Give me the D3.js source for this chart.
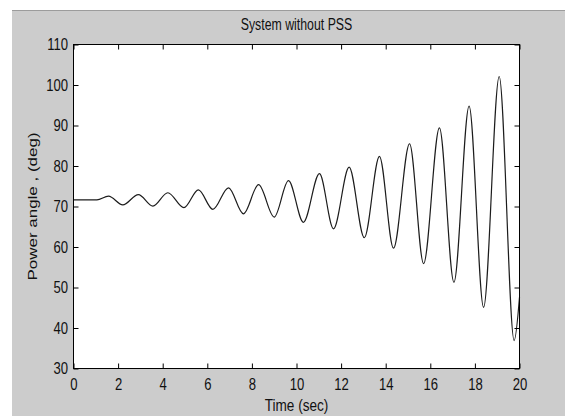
<!DOCTYPE html>
<html>
<head>
<meta charset="utf-8">
<script src="https://cdn.jsdelivr.net/npm/d3@7"></script>
<style>
	body { margin: 0; background: #fff; }
	svg { display: block; }
	text { font-family: 'Liberation Sans', Arial, sans-serif; fill: #111; }
</style>
</head>
<body>
<svg id="chart"></svg>
<script>
// peaks and troughs (sec, deg)
const timeSec = [0, 1.05, 1.57, 2.21, 2.91, 3.56, 4.23, 4.95, 5.6, 6.25, 6.95, 7.62, 8.3, 9.0,
	9.64, 10.31, 11.03, 11.66, 12.36, 13.04, 13.72, 14.35, 15.07, 15.7, 16.41, 17.06,
	17.74, 18.39, 19.09, 19.76, 20];
const angleDeg = [71.65, 71.65, 72.55, 70.4, 72.95, 70.1, 73.4, 69.7, 74.1, 69.3, 74.6, 68.2, 75.4, 67.4,
	76.4, 66.1, 78.1, 64.5, 79.7, 62.3, 82.4, 59.7, 85.5, 55.9, 89.4, 51.3,
	94.8, 45.1, 102.1, 36.9, 47.6];
const xTicks = [0, 2, 4, 6, 8, 10, 12, 14, 16, 18, 20];
const yTicks = [30, 40, 50, 60, 70, 80, 90, 100, 110];

const WIDTH = 565;
const HEIGHT = 416;
const BOX = { left: 73.5, right: 519.5, top: 44.5, bottom: 368.5 };
const TICK = 5;
const SQUEEZE = 0.77; // the original text is narrower than Arial

const $svg = d3.select('#chart').attr('width', WIDTH).attr('height', HEIGHT);

const x = d3.scaleLinear().domain([0, 20]).range([BOX.left, BOX.right]);
const y = d3.scaleLinear().domain([30, 110]).range([BOX.bottom, BOX.top]);

// figure background
$svg.append('rect')
	.attr('x', 12).attr('y', 10)
	.attr('width', WIDTH - 12).attr('height', HEIGHT - 10)
	.attr('fill', '#cccccc');
$svg.append('line')
	.attr('x1', 12).attr('x2', WIDTH)
	.attr('y1', 10.5).attr('y2', 10.5)
	.attr('stroke', '#9c9c9c');

$svg.append('rect')
	.attr('x', BOX.left).attr('y', BOX.top)
	.attr('width', BOX.right - BOX.left).attr('height', BOX.bottom - BOX.top)
	.attr('fill', '#fff');

const line = d3.line()
	.x((d, i) => x(timeSec[i]))
	.y(d => y(d))
	.curve(d3.curveMonotoneX);

$svg.append('path')
	.datum(angleDeg)
	.attr('d', line)
	.attr('fill', 'none')
	.attr('stroke', '#1c1c1c')
	.attr('stroke-width', 1.2);

function styleAxis($g) {
	$g.select('.domain').remove();
	$g.selectAll('line').attr('stroke', '#000');
	$g.selectAll('text').attr('fill', '#111').attr('font-size', 17);
}

const $bottom = $svg.append('g')
	.attr('transform', `translate(0,${BOX.bottom})`)
	.call(d3.axisBottom(x).tickValues(xTicks).tickSize(-TICK).tickPadding(9).tickFormat(d3.format('d')))
	.call(styleAxis);
$bottom.selectAll('text').attr('transform', `scale(${SQUEEZE},1)`);

const $left = $svg.append('g')
	.attr('transform', `translate(${BOX.left},0)`)
	.call(d3.axisLeft(y).tickValues(yTicks).tickSize(-TICK).tickPadding(5).tickFormat(d3.format('d')))
	.call(styleAxis);
$left.selectAll('text')
	.attr('x', -5.5 / SQUEEZE)
	.attr('transform', `scale(${SQUEEZE},1)`);

$svg.append('g')
	.attr('transform', `translate(0,${BOX.top})`)
	.call(d3.axisTop(x).tickValues(xTicks).tickSize(-TICK).tickFormat(''))
	.call(styleAxis);

$svg.append('g')
	.attr('transform', `translate(${BOX.right},0)`)
	.call(d3.axisRight(y).tickValues(yTicks).tickSize(-TICK).tickFormat(''))
	.call(styleAxis);

// plot box
$svg.append('rect')
	.attr('x', BOX.left).attr('y', BOX.top)
	.attr('width', BOX.right - BOX.left).attr('height', BOX.bottom - BOX.top)
	.attr('fill', 'none')
	.attr('stroke', '#000');

const midX = (BOX.left + BOX.right) / 2;

$svg.append('text')
	.attr('transform', `translate(${midX},29.5) scale(${SQUEEZE},1)`)
	.attr('text-anchor', 'middle')
	.attr('font-size', 16)
	.text('System without PSS');

$svg.append('text')
	.attr('transform', `translate(${midX},411) scale(0.8,1)`)
	.attr('text-anchor', 'middle')
	.attr('font-size', 17)
	.text('Time (sec)');

$svg.append('text')
	.attr('transform', `translate(37,${(BOX.top + BOX.bottom) / 2}) rotate(-90) scale(1,0.8)`)
	.attr('text-anchor', 'middle')
	.attr('font-size', 17)
	.text('Power angle , (deg)');
</script>
</body>
</html>
